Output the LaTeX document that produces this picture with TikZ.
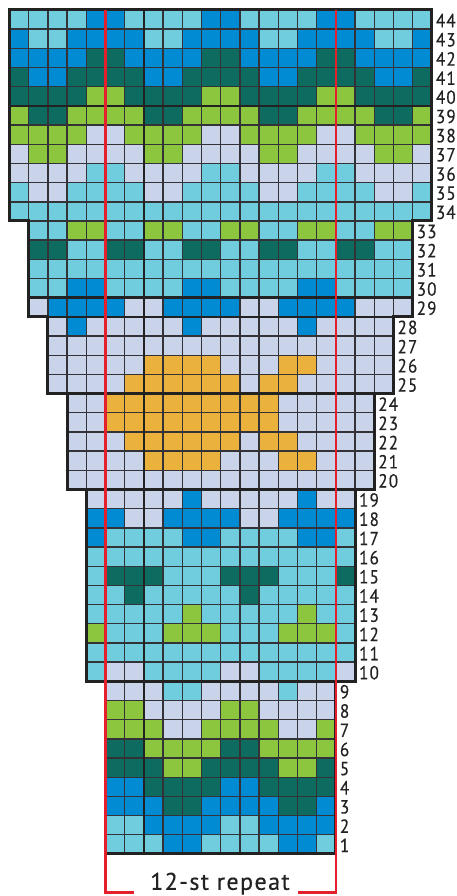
\documentclass[tikz,border=0pt]{standalone}
\usepackage{fontspec}
\newfontfamily\lab[LetterSpace=6,FakeStretch=0.9,FakeBold=0.4]{PT Sans}
\newfontfamily\replab[LetterSpace=6,FakeBold=0.4]{PT Sans}
\definecolor{cL}{HTML}{C9D4EB}
\definecolor{cT}{HTML}{70CDDD}
\definecolor{cB}{HTML}{008BD3}
\definecolor{cD}{HTML}{0D6B5F}
\definecolor{cG}{HTML}{8CC63F}
\definecolor{cY}{HTML}{EAB13C}
\definecolor{gridc}{HTML}{333337}
\definecolor{thickc}{HTML}{222222}
\definecolor{redc}{HTML}{E3202B}
\newcount\kx
\def\kcells#1{\ifx#1\relax\else
  \path[fill=c#1,draw=gridc,line width=1.4pt] (\the\kx,\kj) rectangle ++(1,1);
  \advance\kx by 1
  \expandafter\kcells\fi}
\tikzset{
  thickline/.style={draw=thickc,line width=2.6pt,line cap=rect},
  outline/.style={draw=thickc,line width=3pt,line join=miter},
  redline/.style={draw=redc,line width=2.6pt,line join=miter},
  rowlabel/.style={anchor=west,inner sep=0pt,font=\lab\fontsize{19}{19}\selectfont,text=thickc},
  replabel/.style={inner sep=0pt,font=\replab\fontsize{24}{24}\selectfont,text=thickc}
}
\begin{document}
\begin{tikzpicture}[x=1pt,y=1pt]
\useasboundingbox (0,0) rectangle (456,-896);
\begin{scope}[shift={(9.5pt,-10pt)},x=19.2pt,y=-19.18pt]
\foreach \kj/\ks/\kr in {
0/0/TTTTBBTTTTBBTTTTBBTTTT,
1/0/BTTBBBBTTBBBBTTBBBBTTB,
2/0/BBBBDDBBBBDDBBBBDDBBBB,
3/0/DBBDDDDBBDDDDBBDDDDBBD,
4/0/DDDDGGDDDDGGDDDDGGDDDD,
5/0/GDDGGGGDDGGGGDDGGGGDDG,
6/0/GGGGLLGGGGLLGGGGLLGGGG,
7/0/LGGLLLLGGLLLLGGLLLLGGL,
8/0/LLLLTTLLLLTTLLLLTTLLLL,
9/0/TLLTTTTLLTTTTLLTTTTLLT,
10/0/TTTTTTTTTTTTTTTTTTTTTT,
11/1/TTGGTTGGTTGGTTGGTTGG,
12/1/DDTTDDTTDDTTDDTTDDTT,
13/1/TTTTTTTTTTTTTTTTTTTT,
14/1/TTBBTTTTBBTTTTBBTTTT,
15/1/LBBBBLLBBBBLLBBBBLLL,
16/2/LBLLLLLBLLLLLBLLLL,
17/2/LLLLLLLLLLLLLLLLLL,
18/2/LLLLLYYYYLLLYYLLLL,
19/2/LLLLYYYYYYLYYLLLLL,
20/3/LLYYYYYYYYYLLLLL,
21/3/LLYYYYYYYYYLLLLL,
22/3/LLLYYYYYYLYYLLLL,
23/3/LLLLYYYYLLLYYLLL,
24/3/LLLLLLLLLLLLLLLL,
25/4/LLLLLBLLLLLBLL,
26/4/BBLLBBBBLLBBBB,
27/4/BTTTTBBTTTTBBT,
28/4/TTTTTTTTTTTTTT,
29/4/TDDDTTTDDDTTTD,
30/4/TTDTTTTTDTTTTT,
31/4/TTTTTGTTTTTGTT,
32/4/GTTTGGGTTTGGGT,
33/4/TTTTTTTTTTTTTT,
34/4/TLLTTTTLLTTTTL,
35/5/LLLTTLLLLTLL,
36/5/GGLLLLGGLLLL,
37/5/GGGLLGGGGLLG,
38/5/DDGGGGDDGGGG,
39/5/DDDGGDDDDGGD,
40/5/BBDDDDBBDDDD,
41/5/BBBDDBBBBDDB,
42/5/TTBBBBTTBBBB,
43/5/TTTBBTTTTBBT}{
  \kx=\ks\relax
  \expandafter\kcells\kr\relax
}
% heavy rules
\draw[thickline] (0,5) -- (22,5);
\draw[thickline] (1,15) -- (21,15);
\draw[thickline] (1,16) -- (21,16);
\draw[thickline] (2,20) -- (20,20);
\draw[thickline] (3,25) -- (19,25);
\draw[thickline] (4,35) -- (18,35);
\draw[thickline] (7,0) -- (7,44);
\draw[outline] (0,0) -- (22,0) -- (22,11) -- (21,11) -- (21,16) -- (20,16) -- (20,20) -- (19,20) -- (19,25) -- (18,25) -- (18,35) -- (17,35) -- (17,44) -- (5,44) -- (5,35) -- (4,35) -- (4,25) -- (3,25) -- (3,20) -- (2,20) -- (2,16) -- (1,16) -- (1,11) -- (0,11) -- cycle;
% row numbers
\foreach \kn/\kc in {44/22,43/22,42/22,41/22,40/22,39/22,38/22,37/22,36/22,35/22,34/22,
  33/21,32/21,31/21,30/21,29/21,28/20,27/20,26/20,25/20,24/19,23/19,22/19,21/19,20/19,
  19/18,18/18,17/18,16/18,15/18,14/18,13/18,12/18,11/18,10/18,
  9/17,8/17,7/17,6/17,5/17,4/17,3/17,2/17,1/17}{
  \node[rowlabel] (row\kn) at ({\kc+0.2},{44-\kn+0.55}) {\kn};
}
% repeat bracket
\coordinate (ltop) at (5,0);
\coordinate (rtop) at (17,0);
\coordinate (lbot) at (5,46.02);
\coordinate (rbot) at (17,46.02);
\coordinate (lend) at (6.5,46.02);
\coordinate (rend) at (15,46.02);
\node[replabel] (rep) at (10.96,45.55) {12-st repeat};
\draw[redline] (ltop) -- (lbot) -- (lend);
\draw[redline] (rtop) -- (rbot) -- (rend);
\end{scope}
\end{tikzpicture}
\end{document}
